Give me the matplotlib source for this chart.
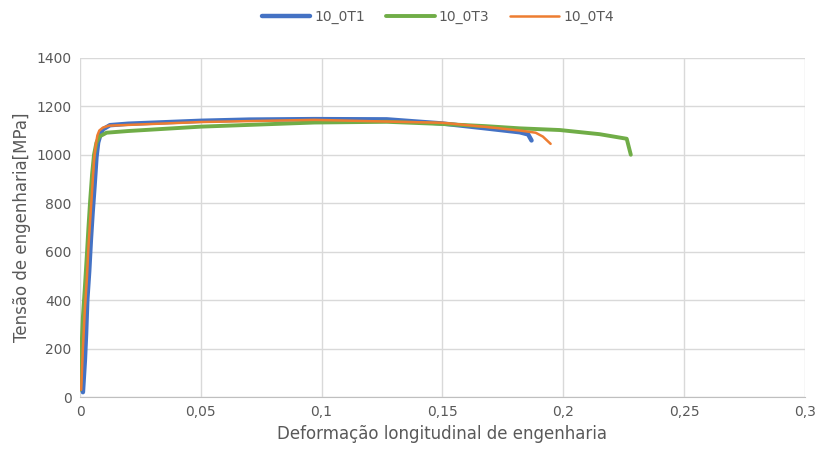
import matplotlib.pyplot as plt
from matplotlib.ticker import FuncFormatter, MultipleLocator

# strain / stress
t1_strain = [0.0012, 0.002, 0.0025, 0.003, 0.0038, 0.0045, 0.0052, 0.006, 0.0068, 0.0075,
             0.0085, 0.0095, 0.0124, 0.02, 0.05, 0.07, 0.097, 0.127, 0.15, 0.168,
             0.182, 0.1855, 0.1869]
t1_stress = [20, 150, 260, 400, 520, 650, 760, 870, 990, 1050,
             1085, 1105, 1122, 1128, 1140, 1145, 1147, 1146, 1129, 1109,
             1093, 1084, 1059]

t3_strain = [0.0, 0.0008, 0.0012, 0.002, 0.0028, 0.0035, 0.0042, 0.005, 0.0058, 0.0068,
             0.008, 0.011, 0.02, 0.05, 0.097, 0.127, 0.15, 0.168, 0.182,
             0.1986, 0.215, 0.2263, 0.228]
t3_stress = [30, 240, 330, 450, 580, 700, 810, 920, 1000, 1050,
             1075, 1091, 1098, 1116, 1133, 1136, 1127, 1118, 1109,
             1102, 1085, 1066, 1000]

t4_strain = [0.0005, 0.0012, 0.002, 0.0028, 0.0035, 0.0042, 0.005, 0.0058, 0.0065, 0.0072,
             0.008, 0.0095, 0.012, 0.05, 0.097, 0.127, 0.15, 0.168, 0.182, 0.1886,
             0.1916, 0.1948]
t4_stress = [30, 200, 360, 480, 620, 730, 850, 980, 1040, 1080,
             1100, 1112, 1120, 1135, 1144, 1137, 1132, 1115, 1100, 1091,
             1075, 1045]

fig = plt.figure(figsize=(8.18, 4.59), dpi=100)
ax = fig.add_axes([0.0978, 0.135, 0.886, 0.739])

ax.plot(t1_strain, t1_stress, color='#4472C4', lw=3.2, label='10_0T1', solid_capstyle='round')
ax.plot(t3_strain, t3_stress, color='#70AD47', lw=2.8, label='10_0T3', solid_capstyle='round')
ax.plot(t4_strain, t4_stress, color='#ED7D31', lw=1.8, label='10_0T4', solid_capstyle='round')

ax.set_xlim(0, 0.3)
ax.set_ylim(0, 1400)
ax.xaxis.set_major_locator(MultipleLocator(0.05))
ax.yaxis.set_major_locator(MultipleLocator(200))
ax.xaxis.set_major_formatter(FuncFormatter(
    lambda v, p: '0' if abs(v) < 1e-9 else ('%g' % round(v, 2)).replace('.', ',')))

ax.grid(True, color='#D9D9D9', lw=1)
ax.set_axisbelow(True)
for s in ['top', 'right', 'left']:
    ax.spines[s].set_visible(False)
ax.spines['bottom'].set_color('#BFBFBF')
ax.tick_params(length=0, colors='#595959', labelsize=10, pad=6)

ax.set_xlabel('Deformação longitudinal de engenharia', color='#595959', fontsize=12)
ax.set_ylabel('Tensão de engenharia[MPa]', color='#595959', fontsize=12)

leg = fig.legend(loc='center', bbox_to_anchor=(0.535, 0.963), ncol=3, frameon=False,
                 fontsize=10, handlelength=3.5, columnspacing=1.5, handletextpad=0.3)
for t in leg.get_texts():
    t.set_color('#595959')

fig.savefig('out.png', dpi=100)
